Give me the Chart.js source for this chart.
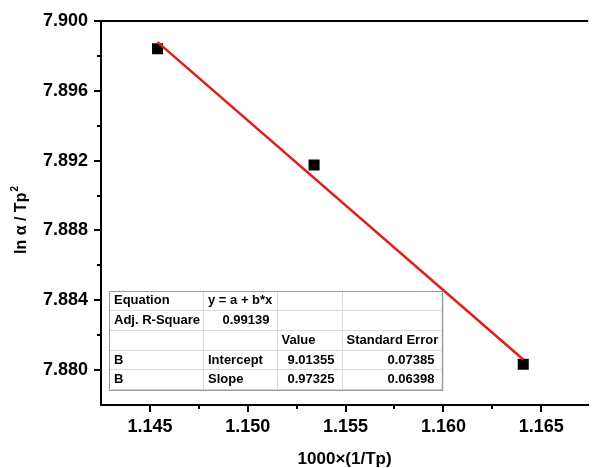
<!DOCTYPE html>
<html>
<head>
<meta charset="utf-8">
<script src="https://cdn.jsdelivr.net/npm/chart.js@4/dist/chart.umd.min.js"></script>
<style>
  html, body { margin: 0; padding: 0; background: #fff; }
  canvas { display: block; }
</style>
</head>
<body>
<canvas id="grafico" width="596" height="468"></canvas>
<script>
// datos
var xValues = [1.14539, 1.15339, 1.16408];
var yValues = [7.89841, 7.89175, 7.88034];
// recta de ajuste (extremos)
var fitX = [1.14539, 1.16408];
var fitY = [7.89879, 7.88061];

var xTicks = [1.145, 1.150, 1.155, 1.160, 1.165];
var xMinor = [1.1475, 1.1525, 1.1575, 1.1625];
var yTicks = [7.880, 7.884, 7.888, 7.892, 7.896, 7.900];
var yMinor = [7.882, 7.886, 7.890, 7.894, 7.898];

var tableRows = [
    ['Equation', 'y = a + b*x', '', ''],
    ['Adj. R-Square', '0.99139', '', ''],
    ['', '', 'Value', 'Standard Error'],
    ['B', 'Intercept', '9.01355', '0.07385'],
    ['B', 'Slope', '0.97325', '0.06398']
];

var FONT = '"Liberation Sans", Arial, sans-serif';

// marcas de ejes (mayores y menores) + borde superior + titulo Y con superindice
var ticksPlugin = {
    id: 'ticksPlugin',
    afterDraw: function (chart) {
        var c = chart.ctx, a = chart.chartArea;
        var xs = chart.scales.x, ys = chart.scales.y;
        c.save();
        c.strokeStyle = '#000';
        c.lineWidth = 2;
        c.beginPath();
        c.moveTo(a.left - 1, a.top);
        c.lineTo(a.right, a.top);
        xTicks.forEach(function (v) {
            var px = Math.round(xs.getPixelForValue(v));
            c.moveTo(px, a.bottom); c.lineTo(px, a.bottom + 7);
        });
        xMinor.forEach(function (v) {
            var px = Math.round(xs.getPixelForValue(v));
            c.moveTo(px, a.bottom); c.lineTo(px, a.bottom + 4);
        });
        yTicks.forEach(function (v) {
            var py = Math.round(ys.getPixelForValue(v));
            c.moveTo(a.left, py); c.lineTo(a.left - 7, py);
        });
        yMinor.forEach(function (v) {
            var py = Math.round(ys.getPixelForValue(v));
            c.moveTo(a.left, py); c.lineTo(a.left - 4, py);
        });
        c.stroke();

        // titulo del eje Y
        var main = 'ln α / Tp', sup = '2';
        c.translate(22, 220);
        c.rotate(-Math.PI / 2);
        c.fillStyle = '#000';
        c.textBaseline = 'middle';
        c.font = 'bold 16px ' + FONT;
        var w1 = c.measureText(main).width;
        c.font = 'bold 10px ' + FONT;
        var w2 = c.measureText(sup).width;
        var x0 = -(w1 + w2 + 1) / 2;
        c.textAlign = 'left';
        c.font = 'bold 16px ' + FONT;
        c.fillText(main, x0, 0);
        c.font = 'bold 10px ' + FONT;
        c.fillText(sup, x0 + w1 + 1, -7);
        c.restore();
    }
};

// tabla de resultados del ajuste
var tablePlugin = {
    id: 'tablePlugin',
    afterDatasetsDraw: function (chart) {
        var c = chart.ctx, a = chart.chartArea;
        var left = a.left + 8, top = a.top + 269.5;
        var colW = [94, 73.5, 65, 100];
        var rowH = 19.7;
        var width = colW.reduce(function (s, w) { return s + w; }, 0);
        var height = rowH * tableRows.length;
        c.save();
        c.fillStyle = '#d0d0d0';
        c.fillRect(left + 2, top + 2, width, height);
        c.fillStyle = '#fff';
        c.fillRect(left, top, width, height);
        c.strokeStyle = '#dadada';
        c.lineWidth = 1;
        c.beginPath();
        for (var r = 1; r < tableRows.length; r++) {
            var yy = Math.round(top + r * rowH) + 0.5;
            c.moveTo(left, yy); c.lineTo(left + width, yy);
        }
        var cx = left;
        for (var k = 0; k < colW.length - 1; k++) {
            cx += colW[k];
            c.moveTo(Math.round(cx) + 0.5, top); c.lineTo(Math.round(cx) + 0.5, top + height);
        }
        c.stroke();
        c.strokeStyle = '#9a9a9a';
        c.strokeRect(Math.round(left) + 0.5, Math.round(top) + 0.5, Math.round(width), Math.round(height));

        c.fillStyle = '#000';
        c.font = 'bold 13px ' + FONT;
        c.textBaseline = 'middle';
        tableRows.forEach(function (row, ri) {
            var x0 = left;
            row.forEach(function (txt, ci) {
                var yc = top + ri * rowH + rowH / 2 + 0.5;
                if (txt !== '') {
                    if (/^[0-9.]+$/.test(txt)) {
                        c.textAlign = 'right';
                        c.fillText(txt, x0 + colW[ci] - 7, yc);
                    } else {
                        c.textAlign = 'left';
                        c.fillText(txt, x0 + 5, yc);
                    }
                }
                x0 += colW[ci];
            });
        });
        c.restore();
    }
};

var ctx = document.getElementById('grafico').getContext('2d');
var grafico = new Chart(ctx, {
    type: 'scatter',
    data: {
        datasets: [{
            label: 'datos',
            data: xValues.map(function (x, i) { return { x: x, y: yValues[i] }; }),
            pointStyle: 'rect',
            pointRadius: 7.8,
            pointHoverRadius: 7.8,
            backgroundColor: '#000',
            borderColor: '#000',
            borderWidth: 0,
            order: 2
        }, {
            label: 'ajuste',
            data: fitX.map(function (x, i) { return { x: x, y: fitY[i] }; }),
            showLine: true,
            pointRadius: 0,
            borderColor: '#e0201c',
            borderWidth: 2.6,
            order: 1
        }]
    },
    options: {
        responsive: false,
        animation: false,
        layout: { padding: { top: 21, right: 0, left: 0, bottom: 0 } },
        plugins: {
            legend: { display: false },
            tooltip: { enabled: false }
        },
        scales: {
            x: {
                type: 'linear',
                min: 1.1425,
                max: 1.1674,
                afterBuildTicks: function (scale) {
                    scale.ticks = xTicks.map(function (v) { return { value: v }; });
                },
                afterFit: function (scale) { scale.height = 63; },
                grid: { display: false, drawTicks: true, tickLength: 7 },
                border: { display: true, color: '#000', width: 2 },
                ticks: {
                    color: '#000',
                    padding: 4,
                    maxRotation: 0,
                    font: { family: FONT, size: 18, weight: 'bold' },
                    callback: function (v) { return v.toFixed(3); }
                },
                title: {
                    display: true,
                    text: '1000×(1/Tp)',
                    color: '#000',
                    padding: { top: 0, bottom: 0 },
                    font: { family: FONT, size: 17, weight: 'bold', lineHeight: 1.0 }
                }
            },
            y: {
                type: 'linear',
                min: 7.878,
                max: 7.900,
                afterBuildTicks: function (scale) {
                    scale.ticks = yTicks.map(function (v) { return { value: v }; });
                },
                afterFit: function (scale) { scale.width = 101; },
                grid: { display: false, drawTicks: true, tickLength: 7 },
                border: { display: true, color: '#000', width: 2 },
                ticks: {
                    color: '#000',
                    padding: 6,
                    font: { family: FONT, size: 18, weight: 'bold' },
                    callback: function (v) { return v.toFixed(3); }
                },
                title: { display: false }
            }
        }
    },
    plugins: [ticksPlugin, tablePlugin]
});
</script>
</body>
</html>
